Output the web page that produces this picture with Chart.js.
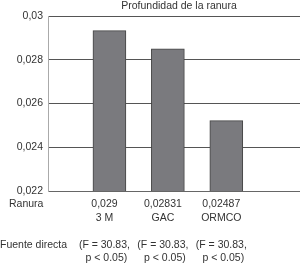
<!DOCTYPE html>
<html>
<head>
<meta charset="utf-8">
<script src="https://cdn.jsdelivr.net/npm/chart.js@4"></script>
<style>
  html, body { margin: 0; padding: 0; background: #fff; }
  #wrap { width: 300px; height: 263px; position: relative; }
</style>
</head>
<body>
<div id="wrap"><canvas id="chart"></canvas></div>
<script>
// --- data ---
const categories = ['3 M', 'GAC', 'ORMCO'];
const ranuraValues = [0.02933, 0.0285, 0.02522];
const ranuraLabels = ['0,029', '0,02831', '0,02487'];
const fuenteLine1 = ['(F = 30.83,', '(F = 30.83,', '(F = 30.83,'];
const fuenteLine2 = ['p < 0.05)', 'p < 0.05)', 'p < 0.05)'];
const yTicks = [0.022, 0.024, 0.026, 0.028, 0.03];
const titleText = 'Profundidad de la ranura';

const FONT = '10.5px "Liberation Sans", Arial, sans-serif';
const TEXT = '#333';

// text under the plot + title
const tablePlugin = {
  id: 'tableRows',
  afterDraw(chart) {
    const ctx = chart.ctx;
    const x = chart.scales.x;
    const area = chart.chartArea;
    ctx.save();
    ctx.font = FONT;
    ctx.fillStyle = TEXT;
    ctx.textBaseline = 'middle';

    ctx.textAlign = 'center';
    ctx.fillText(titleText, (area.left + area.right) / 2 + 5, 6);

    ctx.textAlign = 'left';
    ctx.fillText('Ranura', 9, 204);
    ctx.fillText('Fuente directa', 0, 245);

    ctx.textAlign = 'center';
    categories.forEach((c, i) => {
      const px = x.getPixelForValue(i + 1) - 5;
      ctx.fillText(ranuraLabels[i], px, 204);
      ctx.fillText(c, px, 218);
      ctx.fillText(fuenteLine1[i], px, 245);
      ctx.fillText(fuenteLine2[i], px + 2, 258);
    });
    ctx.restore();
  }
};

new Chart(document.getElementById('chart'), {
  type: 'bar',
  data: {
    datasets: [{
      data: ranuraValues.map((v, i) => ({ x: i + 1, y: v })),
      backgroundColor: '#7a7a7e',
      borderColor: '#444',
      borderWidth: 1,
      barThickness: 33
    }]
  },
  options: {
    responsive: true,
    maintainAspectRatio: false,
    animation: false,
    layout: { padding: { top: 16, bottom: 72, right: 0, left: 0 } },
    plugins: { legend: { display: false }, tooltip: { enabled: false }, title: { display: false } },
    scales: {
      x: {
        type: 'linear',
        min: 0.38,
        max: 3.83,
        grid: { display: false },
        border: { color: '#666', width: 1 },
        ticks: { display: false },
        afterFit(s) { s.height = 0; }
      },
      y: {
        min: 0.022,
        max: 0.03,
        afterBuildTicks(s) { s.ticks = yTicks.map(v => ({ value: v })); },
        afterFit(s) { s.width = 48; },
        grid: { color: '#555', lineWidth: 1, drawTicks: false },
        border: { color: '#aaa', width: 1 },
        ticks: {
          font: { size: 10.5, family: '"Liberation Sans", Arial, sans-serif' },
          color: TEXT,
          padding: 5,
          callback: v => String(+v.toFixed(3)).replace('.', ',')
        }
      }
    }
  },
  plugins: [tablePlugin]
});
</script>
</body>
</html>
